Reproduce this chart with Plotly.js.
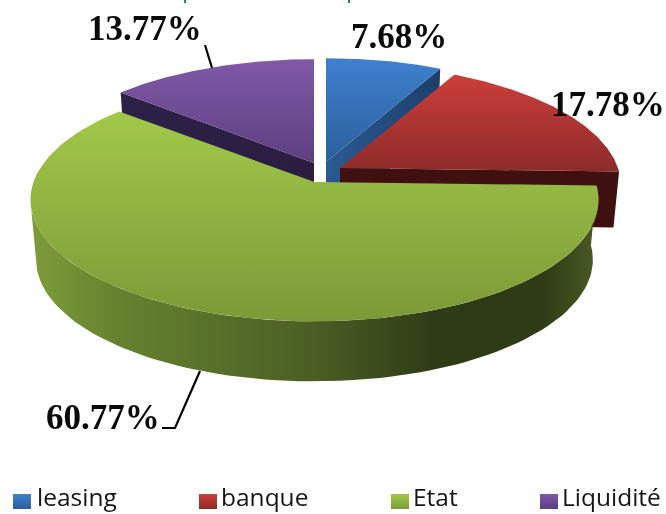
<!DOCTYPE html>
<html>
<head>
<meta charset="utf-8">
<script src="https://cdn.plot.ly/plotly-3.0.1.min.js"></script>
<style>html,body{margin:0;padding:0;background:#fff;overflow:hidden}#chart{width:666px;height:514px;filter:blur(0.5px)}</style>
</head>
<body>
<div id="chart"></div>
<script>
// Data
const categories = ['leasing', 'banque', 'Etat', 'Liquidité'];
const shares = [7.68, 17.78, 60.77, 13.77];
const percentLabels = ['7.68%', '17.78%', '60.77%', '13.77%'];

// Styling
const topColors = [['#3f80cf', '#2c5f9c'], ['#cc3e3b', '#8d2b29'], ['#a2c84a', '#7c9a38'], ['#8059a8', '#5c3f80']];
const sideColors = [['#2a5a92', '#1c3f6b'], ['#3f1010', '#3f1010'], null, ['#2e2148', '#2a1d40']];
const greenSide = [[0, '#7f9c3a'], [0.15, '#66822f'], [0.5, '#4a5e24'], [0.72, '#2f3a16'], [0.9, '#2f3a16'], [1, '#4a5c24']];
const geometry = [
  {cx: 326, cy: 162, a: 278, depth: 60},
  {cx: 340, cy: 168, a: 278, depth: 56},
  {cx: 314.5, cy: 182, a: 281, depth: 60},
  {cx: 314, cy: 163, a: 278, depth: 60}
];
const B = 119, K = 0.146, NARROW = 0.98;
const labelPos = [[399, 36], [608, 104], [103, 417], [145, 28]];
const legendX = [13, 199, 391, 540];
const legendTextX = [36, 220, 412, 561];

function pt(g, t) {
  const s = Math.sin(t), c = Math.cos(t), d = 1 + K * c;
  return [g.cx + g.a * s / d, g.cy - B * c / d];
}
function drop(g, p) { return [g.cx + (p[0] - g.cx) * NARROW, p[1] + g.depth]; }
function poly(points, colors, type, name) {
  const xs = points.map(p => p[0]).concat(points[0][0]);
  const ys = points.map(p => p[1]).concat(points[0][1]);
  return {
    x: xs, y: ys, mode: 'lines', line: {width: 0}, fill: 'toself', hoverinfo: 'text', text: name,
    fillgradient: {type: type, colorscale: colors}, showlegend: false
  };
}
function twoStops(c) { return [[0, c[0]], [1, c[1]]]; }

const total = shares.reduce((a, b) => a + b, 0);
let acc = 0;
const slices = shares.map((v, i) => {
  const t0 = acc / total * 2 * Math.PI; acc += v;
  const t1 = acc / total * 2 * Math.PI;
  const g = geometry[i], arc = [];
  for (let n = 0; n <= 120; n++) arc.push(pt(g, t0 + (t1 - t0) * n / 120));
  return {g, arc, i};
});

function sideTrace(sl) {
  const {g, arc, i} = sl;
  if (i === 2) {
    // sweep only up to the leftmost point of the rim, so the silhouette stays smooth
    let left = 0;
    arc.forEach((p, n) => { if (p[0] < arc[left][0]) left = n; });
    const front = arc.slice(0, left + 1);
    return poly(front.concat(front.slice().reverse().map(p => drop(g, p))), greenSide, 'horizontal', categories[i]);
  }
  const corner = i === 3 ? arc[0] : arc[arc.length - 1];
  const apex = [g.cx, g.cy];
  return poly([apex, corner, drop(g, corner), drop(g, apex)], twoStops(sideColors[i]), 'horizontal', categories[i]);
}
function topTrace(sl) {
  const {g, arc, i} = sl;
  return poly([[g.cx, g.cy]].concat(arc), [[0, topColors[i][1]], [1, topColors[i][0]]], 'vertical', categories[i]);
}

const order = [3, 0, 1, 2];
const traces = [];
order.forEach(i => { traces.push(sideTrace(slices[i])); traces.push(topTrace(slices[i])); });

// Legend swatches
legendX.forEach((x, i) => {
  traces.push(poly([[x, 494], [x + 18, 494], [x + 18, 509], [x, 509]],
    [[0, topColors[i][1]], [1, topColors[i][0]]], 'vertical', categories[i]));
});

const annotations = percentLabels.map((t, i) => ({
  x: labelPos[i][0], y: labelPos[i][1], xref: 'x', yref: 'y', text: t, showarrow: false,
  xanchor: 'center', yanchor: 'middle',
  font: {family: 'Liberation Serif', size: 35, color: '#0a0a0a', weight: 'bold'}
})).concat(categories.map((t, i) => ({
  x: legendTextX[i], y: 514, xref: 'x', yref: 'y', text: t, showarrow: false,
  xanchor: 'left', yanchor: 'bottom', borderpad: 0,
  font: {family: 'Open Sans', size: 24.5, color: '#151515'}
})));

const leader = d => ({type: 'path', path: d, xref: 'x', yref: 'y', line: {color: '#000', width: 2.2}});
const titleTrace = d => ({type: 'path', path: d, xref: 'x', yref: 'y', line: {color: '#1f8f35', width: 2}});
const layout = {
  width: 666, height: 514, margin: {l: 0, r: 0, t: 0, b: 0},
  paper_bgcolor: '#fff', plot_bgcolor: '#fff', showlegend: false,
  xaxis: {range: [0, 666], visible: false, fixedrange: true},
  yaxis: {range: [514, 0], visible: false, fixedrange: true},
  annotations: annotations,
  shapes: [leader('M 205 45 L 212 68'), leader('M 200 371 L 175 428 L 162 428'),
           titleTrace('M 185 0 L 185 3'), titleTrace('M 349 0 L 349 3')]
};
Plotly.newPlot('chart', traces, layout, {displayModeBar: false, staticPlot: true});
</script>
</body>
</html>
